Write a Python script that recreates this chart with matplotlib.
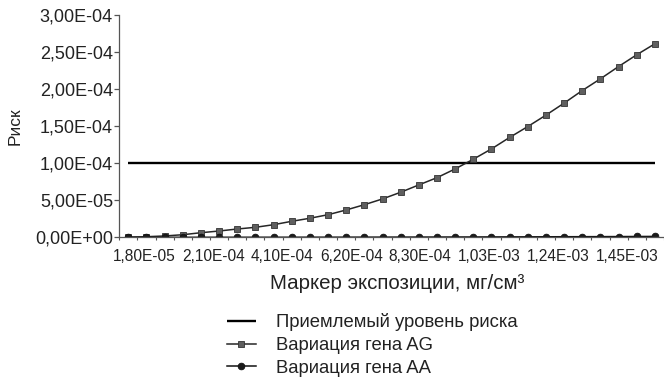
import matplotlib
matplotlib.use("Agg")
import matplotlib.pyplot as plt
from matplotlib.ticker import FixedLocator
import numpy as np

# Exposure categories (30 points) and risk values, units of 1e-6
n_points = 30
risk_ag = [0.3, 0.8, 1.8, 3.5, 6.2, 8.5, 11.2, 13.5, 17.0, 21.6,
           25.7, 30.5, 36.9, 44.0, 51.8, 60.8, 70.7, 80.5, 92.3, 105.4,
           119.3, 134.8, 149.5, 164.9, 181.1, 198.1, 213.9, 230.5, 246.4, 261.2]
risk_aa = [0.0, 0.0, 0.0, 0.0, 0.02, 0.03, 0.05, 0.06, 0.08, 0.1,
           0.13, 0.15, 0.18, 0.21, 0.25, 0.29, 0.33, 0.37, 0.42, 0.47,
           0.53, 0.59, 0.65, 0.71, 0.78, 0.85, 0.92, 1.0, 1.1, 1.2]
acceptable_level = 100.0  # 1,00E-04

x_tick_labels = ["1,80E-05", "2,10E-04", "4,10E-04", "6,20E-04",
                 "8,30E-04", "1,03E-03", "1,24E-03", "1,45E-03"]
y_tick_values = [0, 50, 100, 150, 200, 250, 300]
y_tick_labels = ["0,00E+00", "5,00E-05", "1,00E-04", "1,50E-04",
                 "2,00E-04", "2,50E-04", "3,00E-04"]

series_names = ["Приемлемый уровень риска", "Вариация гена AG", "Вариация гена AA"]
x_title = "Маркер экспозиции, мг/см³"
y_title = "Риск"

scale = 1e-6
x = np.arange(n_points)
ag = np.array(risk_ag) * scale
aa = np.array(risk_aa) * scale
acc = np.full(n_points, acceptable_level * scale)

plt.rcParams["font.family"] = ["Liberation Sans", "DejaVu Sans"]
text_color = "#222222"
axis_color = "#555555"

fig = plt.figure(figsize=(6.64, 3.87), dpi=100)
ax = fig.add_axes([0.1795, 0.3868, 0.8205, 0.5744])

h_acc, = ax.plot(x, acc, color="black", lw=1.7, solid_capstyle="butt")
h_ag, = ax.plot(x, ag, color="#262626", lw=1.1, marker="s", markersize=5.0,
                markerfacecolor="#5f5f5f", markeredgecolor="#333333",
                markeredgewidth=0.6)
h_aa, = ax.plot(x, aa, color="#111111", lw=1.1, marker="o", markersize=4.8,
                markerfacecolor="#1a1a1a", markeredgecolor="#111111",
                markeredgewidth=0.6)

ax.set_xlim(-0.5, n_points - 0.5)
ax.set_ylim(0, 300 * scale)

for side in ("top", "right"):
    ax.spines[side].set_visible(False)
for side in ("left", "bottom"):
    ax.spines[side].set_color(axis_color)
    ax.spines[side].set_linewidth(0.9)

# y axis
ax.yaxis.set_major_locator(FixedLocator([v * scale for v in y_tick_values]))
ax.set_yticklabels(y_tick_labels)
ax.tick_params(axis="y", direction="out", length=3.5, width=0.9,
               color=axis_color, pad=1.0, labelsize=13, labelcolor=text_color)

# x axis: tick marks on category boundaries, labels spread along the axis
label_positions = np.linspace(0.89, 27.46, len(x_tick_labels))
ax.xaxis.set_major_locator(FixedLocator(label_positions))
ax.set_xticklabels(x_tick_labels)
ax.xaxis.set_minor_locator(FixedLocator(np.arange(-0.5, n_points, 1.0)))
ax.tick_params(axis="x", which="major", length=0, pad=8.5,
               labelsize=11.2, labelcolor=text_color)
ax.tick_params(axis="x", which="minor", direction="out", length=2.5,
               width=0.8, color=axis_color)

ax.set_ylabel(y_title, fontsize=12.5, color=text_color, labelpad=9)
fig.text(0.598, 0.2532, x_title, ha="center", va="baseline",
         fontsize=14.8, color=text_color)

leg = fig.legend([h_acc, h_ag, h_aa], series_names, loc="upper left",
                 bbox_to_anchor=(0.342, 0.19), frameon=False, fontsize=13.3,
                 handlelength=1.55, handletextpad=1.12, labelspacing=0.3,
                 borderaxespad=0, borderpad=0)
for t in leg.get_texts():
    t.set_color(text_color)

fig.savefig("out.png", dpi=100)
